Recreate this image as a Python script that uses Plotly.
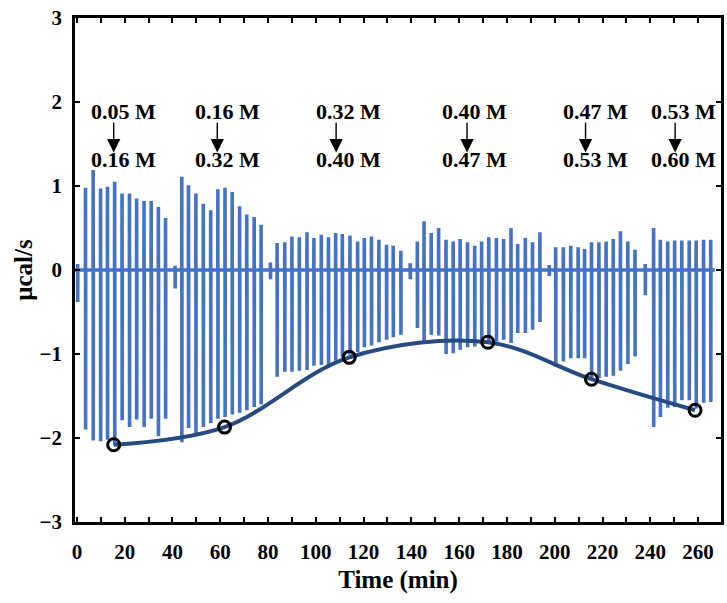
import plotly.graph_objects as go

# Injection times (min), peak (up) and trough (down) heat-flow values (ucal/s)
# for each titration block
seg1_t = [3.6, 6.8, 9.9, 12.8, 15.8, 18.9, 22.0, 25.0, 28.1, 31.1, 34.1, 37.1]
seg1_up = [0.98, 1.19, 0.97, 0.99, 1.05, 0.91, 0.91, 0.85, 0.82, 0.82, 0.75, 0.62]
seg1_dn = [-1.90, -2.03, -2.04, -2.02, -2.08, -1.79, -1.87, -1.78, -1.87, -1.77, -1.98, -1.77]

seg2_t = [43.9, 46.7, 49.8, 52.9, 56.0, 59.0, 62.0, 65.0, 68.1, 71.1, 74.2, 77.1]
seg2_up = [1.11, 1.01, 0.91, 0.79, 0.71, 0.96, 0.98, 0.93, 0.76, 0.66, 0.63, 0.54]
seg2_dn = [-2.05, -1.88, -1.94, -1.87, -1.82, -1.77, -1.75, -1.72, -1.70, -1.67, -1.63, -1.60]

seg3_t = [83.8, 87.0, 90.0, 93.1, 96.3, 99.2, 102.3, 105.3, 108.3, 111.1, 114.3, 117.5,
          120.3, 123.3, 126.4, 129.6, 132.4, 135.6]
seg3_up = [0.32, 0.33, 0.40, 0.39, 0.45, 0.38, 0.42, 0.39, 0.44, 0.43, 0.41, 0.34,
           0.38, 0.40, 0.36, 0.30, 0.29, 0.23]
seg3_dn = [-1.27, -1.21, -1.21, -1.20, -1.19, -1.14, -1.13, -1.14, -1.08, -1.04, -1.01, -0.98,
           -0.92, -0.90, -0.86, -0.83, -0.80, -0.77]

seg4_t = [142.5, 145.3, 148.3, 151.4, 154.5, 157.5, 160.4, 163.5, 166.5, 169.4, 172.4, 175.6,
          178.6, 181.7, 184.5, 187.7, 190.7, 193.8]
seg4_up = [0.34, 0.58, 0.44, 0.50, 0.36, 0.34, 0.37, 0.33, 0.29, 0.34, 0.39, 0.38,
           0.37, 0.50, 0.31, 0.38, 0.33, 0.45]
seg4_dn = [-0.69, -0.88, -0.77, -0.78, -1.00, -0.99, -0.95, -0.92, -0.91, -0.87, -0.85, -0.85,
           -0.83, -0.87, -0.75, -0.75, -0.71, -0.62]

seg5_t = [200.4, 203.6, 206.7, 209.8, 212.5, 215.4, 218.5, 221.5, 224.5, 227.5, 230.6, 233.6]
seg5_up = [0.27, 0.27, 0.29, 0.27, 0.25, 0.33, 0.33, 0.34, 0.37, 0.46, 0.34, 0.24]
seg5_dn = [-1.15, -1.09, -1.05, -1.05, -1.05, -1.28, -1.29, -1.27, -1.26, -1.20, -1.12, -1.03]

seg6_t = [241.4, 244.2, 247.3, 250.2, 253.2, 256.3, 259.2, 262.3, 265.3]
seg6_up = [0.50, 0.36, 0.34, 0.35, 0.35, 0.35, 0.35, 0.36, 0.36]
seg6_dn = [-1.87, -1.75, -1.64, -1.63, -1.55, -1.55, -1.65, -1.58, -1.57]

# Small pre-injection at the start of each block
pre_t = [0.3, 41.1, 81.0, 139.5, 197.7, 237.9]
pre_up = [0.07, 0.05, 0.09, 0.08, 0.06, 0.07]
pre_dn = [-0.38, -0.22, -0.11, -0.11, -0.07, -0.30]

# Integrated heat per block (fitted curve)
fit_t = [15.4, 61.8, 114.0, 172.0, 215.4, 258.75]
fit_y = [-2.08, -1.87, -1.04, -0.86, -1.30, -1.67]

# Concentration steps shown above each block
conc_from = ["0.05 M", "0.16 M", "0.32 M", "0.40 M", "0.47 M", "0.53 M"]
conc_to = ["0.16 M", "0.32 M", "0.40 M", "0.47 M", "0.53 M", "0.60 M"]
label_x = [19.7, 63.2, 113.6, 166.5, 216.9, 253.9]
arrow_x = [15.4, 58.75, 108.5, 163.3, 212.9, 250.4]

t_start, t_end = -0.8, 267.0

# Build the thermogram trace: flat baseline with an up/down spike per injection
events = []
for ts, us, ds in [(pre_t, pre_up, pre_dn), (seg1_t, seg1_up, seg1_dn),
                   (seg2_t, seg2_up, seg2_dn), (seg3_t, seg3_up, seg3_dn),
                   (seg4_t, seg4_up, seg4_dn), (seg5_t, seg5_up, seg5_dn),
                   (seg6_t, seg6_up, seg6_dn)]:
    events += list(zip(ts, us, ds))
events.sort()

xs, ys = [t_start], [0.0]
for t, u, d in events:
    xs += [t - 0.04, t, t + 0.04, t + 0.08]
    ys += [0.0, u, d, 0.0]
xs.append(t_end)
ys.append(0.0)

fig = go.Figure()
fig.add_trace(go.Scatter(x=xs, y=ys, mode="lines",
                         line=dict(color="#4472C4", width=3.6),
                         hoverinfo="skip", showlegend=False))
fig.add_trace(go.Scatter(x=fit_t, y=fit_y, mode="lines",
                         line=dict(color="#264B82", width=4, shape="spline", smoothing=1.0),
                         showlegend=False))
fig.add_trace(go.Scatter(x=fit_t, y=fit_y, mode="markers",
                         marker=dict(symbol="circle-open", size=12, color="black",
                                     line=dict(color="black", width=3)),
                         showlegend=False))

txt_font = dict(family="Liberation Serif", size=22, color="black", weight="bold")
annotations = []
for lx, ax_, a, b in zip(label_x, arrow_x, conc_from, conc_to):
    annotations.append(dict(x=lx, y=1.89, xref="x", yref="y", text=a, showarrow=False,
                            font=txt_font))
    annotations.append(dict(x=lx, y=1.31, xref="x", yref="y", text=b, showarrow=False,
                            font=txt_font))
    annotations.append(dict(x=ax_, y=1.40, ax=ax_, ay=1.77, xref="x", yref="y",
                            axref="x", ayref="y", text="", showarrow=True,
                            arrowhead=2, arrowsize=1.9, arrowwidth=1.4,
                            arrowcolor="black", standoff=0, startstandoff=0))

tick_font = dict(family="Liberation Serif", size=21, color="black", weight="bold")
title_font = dict(family="Liberation Serif", size=25, color="black", weight="bold")

fig.update_layout(
    width=727, height=603,
    margin=dict(l=75, r=3, t=18, b=81),
    paper_bgcolor="white", plot_bgcolor="white",
    annotations=annotations,
    xaxis=dict(range=[-0.8, 269.6], tickmode="array", tickvals=list(range(0, 261, 20)),
               ticks="inside", ticklen=5, tickwidth=2, tickcolor="black",
               showline=True, linewidth=2.5, linecolor="black", mirror="allticks",
               showgrid=False, zeroline=False, tickfont=tick_font,
               ticklabelstandoff=9,
               minor=dict(tickvals=list(range(10, 261, 20)), ticks="inside", ticklen=5,
                          tickwidth=2, tickcolor="black", showgrid=False),
               title=dict(text="Time (min)", font=title_font, standoff=8)),
    yaxis=dict(range=[-3, 3], tickmode="array", tickvals=[-3, -2, -1, 0, 1, 2, 3],
               ticks="inside", ticklen=5, tickwidth=2, tickcolor="black",
               showline=True, linewidth=2.5, linecolor="black", mirror="allticks",
               showgrid=False, zeroline=False, tickfont=tick_font,
               ticklabelstandoff=6,
               title=dict(text="μcal/s", font=title_font, standoff=0)),
)

fig.write_html("out.html")
